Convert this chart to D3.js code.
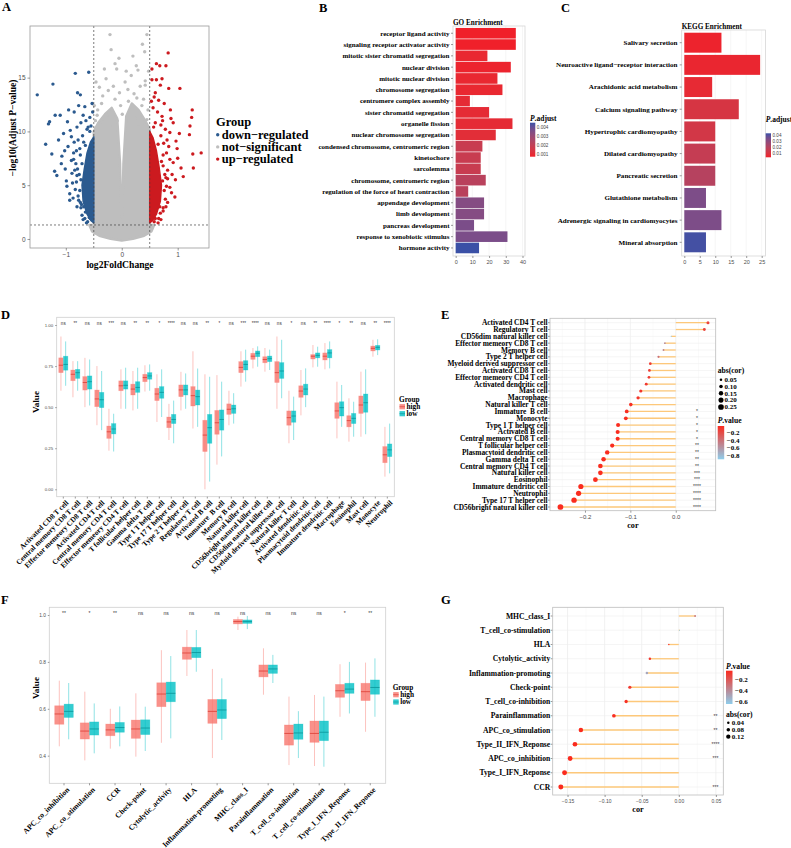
<!DOCTYPE html>
<html><head><meta charset="utf-8">
<script src="https://cdn.jsdelivr.net/npm/d3@7"></script>
<style>body{margin:0;background:#fff}</style>
</head><body>
<svg id="c" width="791" height="848"></svg>
<script>
// ================= DATA =================
// Panel A – volcano (log2FC, -log10 adj P)
const volcanoNsCore = [[-0.5,1.3],[-0.58,1.3],[-0.53,0.7],[-0.4,0.3],[-0.2,0.02],[0,-0.15],[0.2,0.02],[0.4,0.3],[0.53,0.7],[0.58,1.3],[0.5,1.3],[0.5,10.2],[0.42,11.0],[0.3,12.0],[0.18,12.6],[0.08,11.4],[0.03,7],[0.008,2.0],[-0.008,2.0],[-0.03,7],[-0.08,11.2],[-0.18,12.2],[-0.3,11.6],[-0.42,10.8],[-0.5,10.0]];
const volcanoDownCore = [[-0.5,1.5],[-0.5,9.5],[-0.56,9.0],[-0.62,8.0],[-0.67,6.5],[-0.71,5.0],[-0.69,3.5],[-0.62,2.3],[-0.55,1.7]];
const volcanoUpCore = [[0.5,1.5],[0.5,10.0],[0.56,9.4],[0.62,8.2],[0.67,6.6],[0.71,5.0],[0.69,3.5],[0.62,2.3],[0.55,1.7]];
const volcanoNs = [[-0.21,19.0],[0.45,19.0],[-0.19,17.6],[0.37,18.1],[0.41,17.4],[-0.12,16.3],[-0.09,15.8],[0.26,16.1],[0.29,15.7],[0.17,15.2],[-0.28,14.9],[-0.46,14.6],[-0.40,14.1],[0.42,14.7],[0.42,14.3],[-0.34,13.3],[-0.04,13.6],[0.11,13.9],[-0.12,13.0],[0.27,13.1],[0.36,12.4],[-0.43,12.0],[-0.26,11.5],[0.01,11.6],[0.18,12.0],[-0.08,11.0],[-0.49,12.4],[-0.47,11.0],[0.45,11.1],[0.39,13.0],[-0.21,10.4],[0.30,10.4],[-0.36,12.6],[0.22,13.5],[-0.15,14.2],[0.06,14.6],[0.33,14.2],[-0.24,13.8],[0.47,12.0],[-0.44,11.5],[0.12,12.8],[-0.02,12.4],[0.24,11.2],[-0.35,10.9],[0.40,10.8],[0.08,15.6],[-0.05,16.8],[0.20,17.0],[-0.31,15.8],[0.48,15.6]];
const volcanoDown = [[-1.51,13.4],[-1.23,14.4],[-0.83,15.4],[-0.59,15.5],[-0.79,13.6],[-0.74,13.4],[-0.77,12.4],[-0.95,12.0],[-1.10,11.5],[-1.29,10.9],[-1.31,10.7],[-1.19,11.5],[-1.36,8.8],[-1.25,7.9],[-1.08,7.0],[-1.16,5.9],[-0.93,3.6],[-0.99,5.4],[-0.85,11.8],[-0.69,11.5],[-0.57,11.3],[-1.04,9.8],[-0.92,10.1],[-0.80,10.4],[-1.13,9.2],[-0.96,8.6],[-0.86,8.0],[-1.01,6.5],[-0.89,6.1],[-0.98,4.9],[-0.83,4.6],[-0.74,3.4],[-0.65,2.5],[-0.61,1.6],[-1.07,7.7],[-0.55,10.5],[-0.62,10.2],[-0.70,9.6],[-0.78,9.2],[-0.85,9.0],[-0.90,7.3],[-0.82,7.0],[-0.79,6.5],[-0.88,5.2],[-0.93,4.2],[-0.80,3.0],[-0.71,2.2],[-0.58,2.0],[-1.20,6.3],[-0.97,10.9],[-0.66,12.3],[-0.53,12.6],[-1.02,8.2],[-0.87,3.8],[-0.81,5.3],[-0.84,6.4],[-0.75,8.4],[-0.68,9.0],[-0.78,4.0],[-0.72,3.2],[-0.90,9.5],[-0.64,11.0],[-0.56,1.9],[-0.63,1.5],[-0.74,7.8],[-0.76,6.0],[-0.75,4.5],[-0.73,2.9],[-0.66,1.9],[-0.60,10.4],[-0.52,11.8],[-0.73,10.8],[-0.81,8.2],[-0.86,7.4],[-0.77,3.6],[-0.69,1.8],[-0.80,5.9],[-0.71,7.0],[-0.65,8.7],[-0.57,10.0],[-0.73,5.5],[-0.68,3.0]];
const volcanoUp = [[0.83,17.3],[0.79,16.1],[0.62,16.3],[0.68,16.1],[1.04,14.0],[0.84,14.0],[0.72,14.9],[0.54,14.8],[1.26,12.0],[1.25,11.3],[1.22,10.5],[1.21,9.7],[1.42,8.0],[1.27,7.9],[1.28,6.6],[1.03,9.8],[0.99,8.4],[1.06,6.6],[0.86,9.9],[0.87,12.0],[0.92,7.1],[0.80,4.9],[0.89,4.3],[0.79,3.0],[0.69,2.4],[0.57,2.1],[0.96,5.5],[0.75,8.9],[0.66,12.9],[0.72,11.4],[0.80,8.0],[0.92,10.8],[0.60,13.6],[0.56,12.2],[0.64,11.8],[0.70,10.6],[0.78,10.2],[0.84,8.6],[0.90,6.0],[0.82,6.4],[0.86,4.8],[0.95,3.9],[0.82,3.4],[0.74,2.6],[0.60,1.9],[1.00,7.5],[0.97,9.1],[1.10,5.8],[0.69,14.3],[0.76,12.6],[0.54,15.8],[0.88,11.2],[0.79,5.7],[0.74,6.8],[0.58,1.6],[0.65,1.5],[0.74,7.8],[0.77,6.0],[0.76,4.5],[0.74,2.9],[0.66,1.9],[0.70,9.6],[0.60,10.8],[0.53,12.8],[0.73,11.0],[0.81,9.2],[0.86,7.4],[0.78,3.7],[0.70,1.8],[0.82,5.6],[0.58,13.2],[0.62,14.8],[0.71,7.2],[0.65,8.8],[0.57,10.4],[0.73,5.4],[0.68,3.0]];
const volcanoGroups = ["down−regulated","not−significant","up−regulated"];
const volcanoXTicks = [-1,0,1];
const volcanoYTicks = [0,5,10,15];

// Panel B – GO enrichment
const goTerms = ["receptor ligand activity","signaling receptor activator activity","mitotic sister chromatid segregation","nuclear division","mitotic nuclear division","chromosome segregation","centromere complex assembly","sister chromatid segregation","organelle fission","nuclear chromosome segregation","condensed chromosome, centromeric region","kinetochore","sarcolemma","chromosome, centromeric region","regulation of the force of heart contraction","appendage development","limb development","pancreas development","response to xenobiotic stimulus","hormone activity"];
const goCount = [36,36,19,33,25,28,8.5,20,34,24,16,15,15,18,7.5,17,17,11,31,14];
const goPadj = [0.0007,0.0007,0.0009,0.0008,0.0009,0.0009,0.001,0.001,0.001,0.0011,0.0018,0.0018,0.0018,0.0022,0.0022,0.0034,0.0034,0.0036,0.0036,0.0045];
const goXTicks = [0,10,20,30,40];
const goLegendTicks = [0.004,0.003,0.002,0.001];

// Panel C – KEGG enrichment
const keggTerms = ["Salivary secretion","Neuroactive ligand−receptor interaction","Arachidonic acid metabolism","Calcium signaling pathway","Hypertrophic cardiomyopathy","Dilated cardiomyopathy","Pancreatic secretion","Glutathione metabolism","Adrenergic signaling in cardiomyocytes","Mineral absorption"];
const keggCount = [12,24.5,9,17.6,10,10,10,7,12,7];
const keggPadj = [0.004,0.005,0.006,0.011,0.012,0.016,0.02,0.034,0.034,0.043];
const keggXTicks = [0,5,10,15,20,25];
const keggLegendTicks = [0.04,0.03,0.02,0.01];

// Panel D – immune cells boxplots  [lower whisker, q1, median, q3, upper whisker]
const dCells = ["Activated CD8 T cell","Central memory CD8 T cell","Effector memeory CD8 T cell","Activated CD4 T cell","Central memory CD4 T cell","Effector memeory CD4 T cell","T follicular helper cell","Gamma delta T cell","Type 1 T helper cell","Type 17 T helper cell","Type 2 T helper cell","Regulatory T cell","Activated B cell","Immature  B cell","Memory B cell","Natural killer cell","CD56bright natural killer cell","CD56dim natural killer cell","Myeloid derived suppressor cell","Natural killer T cell","Activated dendritic cell","Plasmacytoid dendritic cell","Immature dendritic cell","Macrophage","Eosinophil","Mast cell","Monocyte","Neutrophil"];
const dHigh = [[0.60,0.71,0.755,0.80,0.93],[0.56,0.661,0.70,0.726,0.78],[0.50,0.604,0.65,0.686,0.80],[0.39,0.503,0.55,0.604,0.75],[0.235,0.31,0.35,0.385,0.49],[0.49,0.60,0.63,0.66,0.73],[0.48,0.574,0.61,0.64,0.72],[0.595,0.655,0.68,0.70,0.755],[0.41,0.54,0.58,0.615,0.70],[0.30,0.375,0.41,0.44,0.52],[0.48,0.564,0.605,0.635,0.715],[0.37,0.507,0.57,0.625,0.84],[0.0,0.23,0.33,0.42,0.70],[0.15,0.335,0.405,0.48,0.695],[0.39,0.456,0.487,0.52,0.60],[0.625,0.71,0.742,0.777,0.84],[0.736,0.791,0.81,0.828,0.86],[0.716,0.77,0.79,0.807,0.86],[0.49,0.65,0.71,0.777,0.93],[0.28,0.39,0.436,0.477,0.60],[0.45,0.56,0.598,0.63,0.726],[0.742,0.793,0.81,0.82,0.878],[0.73,0.787,0.81,0.83,0.89],[0.31,0.432,0.477,0.527,0.655],[0.29,0.38,0.418,0.448,0.554],[0.32,0.462,0.513,0.568,0.716],[0.807,0.842,0.858,0.872,0.91],[0.077,0.162,0.21,0.26,0.38]];
const dLow = [[0.63,0.725,0.76,0.81,0.90],[0.60,0.675,0.71,0.73,0.78],[0.51,0.61,0.655,0.69,0.79],[0.36,0.497,0.545,0.59,0.72],[0.23,0.337,0.367,0.40,0.46],[0.49,0.61,0.633,0.66,0.74],[0.49,0.59,0.62,0.655,0.74],[0.60,0.67,0.69,0.71,0.76],[0.44,0.554,0.59,0.625,0.73],[0.28,0.40,0.425,0.456,0.54],[0.49,0.574,0.605,0.635,0.705],[0.38,0.513,0.564,0.604,0.735],[0.047,0.28,0.375,0.456,0.685],[0.20,0.36,0.425,0.483,0.655],[0.40,0.462,0.49,0.513,0.585],[0.655,0.726,0.76,0.783,0.85],[0.746,0.807,0.828,0.842,0.87],[0.726,0.777,0.795,0.811,0.85],[0.554,0.675,0.72,0.771,0.91],[0.30,0.408,0.446,0.477,0.564],[0.50,0.574,0.61,0.64,0.736],[0.746,0.80,0.815,0.83,0.868],[0.736,0.80,0.83,0.85,0.90],[0.38,0.446,0.497,0.533,0.635],[0.32,0.40,0.432,0.462,0.533],[0.335,0.469,0.527,0.58,0.73],[0.817,0.848,0.864,0.876,0.913],[0.097,0.199,0.24,0.276,0.40]];
const dSig = ["ns","**","ns","ns","***","ns","**","**","*","****","ns","ns","**","*","ns","***","****","ns","ns","*","ns","**","****","*","**","ns","**","****"];
const dYTicks = [0,0.25,0.5,0.75,1];
const groups = ["high","low"];

// Panel E – correlation lollipop (cells)
const eCells = ["Activated CD4 T cell","Regulatory T cell","CD56dim natural killer cell","Effector memeory CD8 T cell","Memory B cell","Type 2 T helper cell","Myeloid derived suppressor cell","Activated CD8 T cell","Effector memeory CD4 T cell","Activated dendritic cell","Mast cell","Macrophage","Natural killer T cell","Immature  B cell","Monocyte","Type 1 T helper cell","Activated B cell","Central memory CD8 T cell","T follicular helper cell","Plasmacytoid dendritic cell","Gamma delta T cell","Central memory CD4 T cell","Natural killer cell","Eosinophil","Immature dendritic cell","Neutrophil","Type 17 T helper cell","CD56bright natural killer cell"];
const eCor = [0.071,0.063,-0.010,-0.024,-0.027,-0.038,-0.056,-0.058,-0.059,-0.065,-0.077,-0.083,-0.099,-0.108,-0.110,-0.127,-0.128,-0.128,-0.140,-0.151,-0.159,-0.166,-0.166,-0.177,-0.209,-0.214,-0.224,-0.254];
const ePval = [-0.15,-0.15,-0.85,-0.55,-0.5,-0.4,-0.12,-0.12,-0.12,-0.1,-0.08,-0.08,-0.05,-0.04,-0.04,-0.03,-0.03,-0.03,-0.03,-0.03,-0.03,-0.03,-0.03,-0.03,-0.03,-0.03,-0.03,-0.03];
const eSig = ["","","","","","","","","","","","","","*","*","*","*","*","**","**","**","**","***","***","****","****","****","****"];
const eXTicks = [-0.2,-0.1,0.0];
const eSizeTicks = [0.05,0.10,0.15,0.20,0.25];
const ePvalTicks = [-0.2,-0.4,-0.6,-0.8];

// Panel F – immune function boxplots
const fCats = ["APC_co_inhibition","APC_co_stimulation","CCR","Check-point","Cytolytic_activity","HLA","Inflammation-promoting","MHC_class_I","Parainflammation","T_cell_co-inhibition","T_cell_co-stimulation","Type_I_IFN_Reponse","Type_II_IFN_Reponse"];
const fHigh = [[0.44,0.534,0.578,0.613,0.72],[0.38,0.471,0.505,0.54,0.673],[0.43,0.485,0.51,0.535,0.60],[0.396,0.474,0.514,0.552,0.666],[0.455,0.609,0.663,0.711,0.85],[0.74,0.811,0.838,0.863,0.936],[0.39,0.538,0.589,0.64,0.77],[0.936,0.962,0.972,0.981,0.993],[0.66,0.736,0.761,0.787,0.858],[0.36,0.445,0.495,0.531,0.652],[0.356,0.457,0.495,0.548,0.659],[0.566,0.649,0.677,0.704,0.79],[0.502,0.635,0.673,0.709,0.797]];
const fLow = [[0.47,0.563,0.589,0.62,0.71],[0.41,0.488,0.514,0.544,0.623],[0.44,0.50,0.52,0.542,0.61],[0.42,0.49,0.518,0.553,0.609],[0.474,0.63,0.666,0.714,0.825],[0.758,0.818,0.84,0.862,0.936],[0.467,0.558,0.595,0.64,0.73],[0.94,0.964,0.972,0.979,0.996],[0.71,0.751,0.77,0.787,0.83],[0.39,0.47,0.497,0.535,0.59],[0.353,0.464,0.50,0.548,0.652],[0.58,0.666,0.684,0.709,0.80],[0.566,0.662,0.691,0.723,0.815]];
const fSig = ["**","*","**","ns","ns","ns","ns","ns","ns","ns","ns","*","**"];
const fYTicks = [0.4,0.6,0.8,1.0];

// Panel G – correlation lollipop (functions)
const gCats = ["MHC_class_I","T_cell_co-stimulation","HLA","Cytolytic_activity","Inflammation-promoting","Check-point","T_cell_co-inhibition","Parainflammation","APC_co_stimulation","Type_II_IFN_Reponse","APC_co_inhibition","Type_I_IFN_Reponse","CCR"];
const gCor = [0.022,0.001,-0.0135,-0.039,-0.043,-0.066,-0.071,-0.0875,-0.132,-0.140,-0.1465,-0.154,-0.159];
const gPval = [-0.32,-0.62,-0.06,-0.08,-0.5,-0.08,-0.05,-0.04,-0.03,-0.03,-0.03,-0.03,-0.03];
const gSig = ["","","","","","","","**","**","****","***","","***"];
const gXTicks = [-0.15,-0.10,-0.05,0.00,0.05];
const gSizeTicks = [0.04,0.08,0.12];
const gPvalTicks = [-0.2,-0.4,-0.6];

// ================= DRAWING =================
const SERIF = "'Liberation Serif','Times New Roman',serif";
const SANS = "'Liberation Sans',Arial,sans-serif";
const svg = d3.select("#c");
svg.append("rect").attr("width",791).attr("height",848).attr("fill","#fff");
const defs = svg.append("defs");

function txt(g,x,y,s,o={}){
  const t=g.append("text").attr("x",x).attr("y",y).text(s)
    .attr("font-family",o.family||SERIF).attr("font-size",o.size||8)
    .attr("font-weight",o.weight||"bold").attr("fill",o.fill||"#000")
    .attr("text-anchor",o.anchor||"start").style("white-space","pre");
  if(o.baseline) t.attr("dominant-baseline",o.baseline);
  if(o.rotate!=null) t.attr("transform",`rotate(${o.rotate},${x},${y})`);
  if(o.style) t.attr("font-style",o.style);
  return t;
}
function styleAxis(sel,fs,col){
  sel.select(".domain").remove();
  sel.selectAll(".tick line").attr("stroke","#555").attr("stroke-width",0.6);
  sel.selectAll(".tick text").attr("font-family",SANS).attr("font-size",fs).attr("fill",col||"#4D4D4D");
}
function frame(g,x0,y0,x1,y1,col){
  g.append("rect").attr("x",x0).attr("y",y0).attr("width",x1-x0).attr("height",y1-y0)
   .attr("fill","none").attr("stroke",col||"#BDBDBD").attr("stroke-width",0.8);
}
// panel letters
[["A",2,11],["B",319,12],["C",561,12],["D",1,319],["E",441,319],["F",1,604],["G",441,604]]
  .forEach(([l,x,y])=>txt(svg,x,y,l,{size:12.5}));

// ---------- A ----------
(function(){
  const g=svg.append("g");
  const x=d3.scaleLinear().domain([-1.64,1.56]).range([30,209]);
  const y=d3.scaleLinear().domain([-0.84,19.8]).range([248,26]);
  const GREY="#BEBEBE", BLUE="#2B5A8F", RED="#CC1A1F";
  const line=d3.line().x(d=>x(d[0])).y(d=>y(d[1])).curve(d3.curveLinearClosed);
  g.append("path").attr("d",line(volcanoNsCore)).attr("fill",GREY).attr("stroke",GREY).attr("stroke-width",2.4).attr("stroke-linejoin","round");
  g.append("path").attr("d",line(volcanoDownCore)).attr("fill",BLUE).attr("stroke",BLUE).attr("stroke-width",1.5).attr("stroke-linejoin","round");
  g.append("path").attr("d",line(volcanoUpCore)).attr("fill",RED).attr("stroke",RED).attr("stroke-width",1.5).attr("stroke-linejoin","round");
  [[volcanoNs,GREY],[volcanoDown,BLUE],[volcanoUp,RED]].forEach(([arr,c])=>{
    g.selectAll(null).data(arr).enter().append("circle").attr("cx",d=>x(d[0])).attr("cy",d=>y(d[1])).attr("r",1.7).attr("fill",c);
  });
  [-0.5,0.5].forEach(v=>g.append("line").attr("x1",x(v)).attr("x2",x(v)).attr("y1",26).attr("y2",248).attr("stroke","#444").attr("stroke-width",0.7).attr("stroke-dasharray","2,2"));
  g.append("line").attr("x1",30).attr("x2",209).attr("y1",y(1.3)).attr("y2",y(1.3)).attr("stroke","#444").attr("stroke-width",0.7).attr("stroke-dasharray","2,2");
  frame(g,30,26,209,248,"#9A9A9A");
  const ax=g.append("g").attr("transform","translate(0,248)").call(d3.axisBottom(x).tickValues(volcanoXTicks).tickSize(2.5).tickPadding(2).tickFormat(d3.format("d")));
  styleAxis(ax,6.5);
  const ay=g.append("g").attr("transform","translate(30,0)").call(d3.axisLeft(y).tickValues(volcanoYTicks).tickSize(2.5).tickPadding(2));
  styleAxis(ay,6.5);
  txt(g,16,128,"−log10(Adjust P−value)",{size:9.6,anchor:"middle",rotate:-90});
  txt(g,120,268,"log2FoldChange",{size:9.6,anchor:"middle"});
  txt(g,216,126,"Group",{size:12.5});
  [BLUE,GREY,RED].forEach((c,i)=>{
    const cy=134.7+i*12.2;
    g.append("circle").attr("cx",217.7).attr("cy",cy).attr("r",1.7).attr("fill",c);
    txt(g,221.7,cy+4,volcanoGroups[i],{size:12.5});
  });
})();

// colour scales for enrichment
function padjScale(dom){ return d3.scaleLinear().domain(dom).range(["#F0202A","#3A50A6"]).interpolate(d3.interpolateLab); }
function vColorbar(id,x,y0,y1,w,scale,top,bottom){
  const gr=defs.append("linearGradient").attr("id",id).attr("x1",0).attr("x2",0).attr("y1",0).attr("y2",1);
  for(let i=0;i<=10;i++){ gr.append("stop").attr("offset",i/10).attr("stop-color",scale(top+(bottom-top)*i/10)); }
  svg.append("rect").attr("x",x).attr("y",y0).attr("width",w).attr("height",y1-y0).attr("fill",`url(#${id})`);
}
function italicTitle(x,y,rest,size){
  const t=txt(svg,x,y,"",{size:size});
  t.append("tspan").attr("font-style","italic").text("P");
  t.append("tspan").text(rest);
}

// ---------- B ----------
(function(){
  const g=svg.append("g");
  const x=d3.scaleLinear().domain([-1.6,41.5]).range([453,525]);
  const y=d3.scaleBand().domain(goTerms).range([27.6,253.6]).paddingInner(0.06).paddingOuter(0.03);
  const col=padjScale([0.0007,0.0045]);
  goXTicks.forEach(v=>g.append("line").attr("x1",x(v)).attr("x2",x(v)).attr("y1",26).attr("y2",256).attr("stroke","#F0F0F0").attr("stroke-width",0.6));
  g.selectAll(null).data(goTerms).enter().append("rect")
    .attr("x",x(0)).attr("y",d=>y(d)).attr("height",y.bandwidth())
    .attr("width",(d,i)=>x(goCount[i])-x(0)).attr("fill",(d,i)=>col(goPadj[i]));
  frame(g,453,26,525,256,"#D6D6D6");
  const ax=g.append("g").attr("transform","translate(0,256)").call(d3.axisBottom(x).tickValues(goXTicks).tickSize(2).tickPadding(2));
  styleAxis(ax,5.5);
  goTerms.forEach(t=>{
    const cy=y(t)+y.bandwidth()/2;
    g.append("line").attr("x1",451).attr("x2",453).attr("y1",cy).attr("y2",cy).attr("stroke","#555").attr("stroke-width",0.6);
    txt(g,449.5,cy+2.4,t,{size:7,anchor:"end"});
  });
  txt(g,453,24.5,"GO Enrichment",{size:7.2});
  italicTitle(530,120.5,".adjust",7.5);
  const ly=d3.scaleLinear().domain([0.0045,0.0007]).range([122.7,156.7]);
  vColorbar("gB",530,122.7,156.7,5.3,col,0.0045,0.0007);
  goLegendTicks.forEach(v=>txt(g,536.8,ly(v)+1.6,d3.format(".3f")(v),{size:4.6,family:SANS,weight:"normal",fill:"#444"}));
})();

// ---------- C ----------
(function(){
  const g=svg.append("g");
  const x=d3.scaleLinear().domain([-0.84,26.2]).range([681.7,765.4]);
  const y=d3.scaleBand().domain(keggTerms).range([31.6,253.4]).paddingInner(0.1).paddingOuter(0.05);
  const col=padjScale([0.0032,0.044]);
  keggXTicks.forEach(v=>g.append("line").attr("x1",x(v)).attr("x2",x(v)).attr("y1",30).attr("y2",256).attr("stroke","#F0F0F0").attr("stroke-width",0.6));
  g.selectAll(null).data(keggTerms).enter().append("rect")
    .attr("x",x(0)).attr("y",d=>y(d)).attr("height",y.bandwidth())
    .attr("width",(d,i)=>x(keggCount[i])-x(0)).attr("fill",(d,i)=>col(keggPadj[i]));
  frame(g,681.7,30,765.4,256,"#D6D6D6");
  const ax=g.append("g").attr("transform","translate(0,256)").call(d3.axisBottom(x).tickValues(keggXTicks).tickSize(2).tickPadding(2));
  styleAxis(ax,5.5);
  keggTerms.forEach(t=>{
    const cy=y(t)+y.bandwidth()/2;
    g.append("line").attr("x1",679.7).attr("x2",681.7).attr("y1",cy).attr("y2",cy).attr("stroke","#555").attr("stroke-width",0.6);
    txt(g,677.5,cy+2.4,t,{size:7.1,anchor:"end"});
  });
  txt(g,681.7,28.5,"KEGG Enrichment",{size:7.2});
  italicTitle(765.7,121.5,".adjust",7.5);
  const ly=d3.scaleLinear().domain([0.044,0.0032]).range([133.3,157.3]);
  vColorbar("gC",765.7,133.3,157.3,5.3,col,0.044,0.0032);
  keggLegendTicks.forEach(v=>txt(g,772.5,ly(v)+1.6,d3.format(".2f")(v),{size:4.6,family:SANS,weight:"normal",fill:"#444"}));
})();

// ---------- box plot helper ----------
const HIGH="#F8766D", LOW="#00BFC4", HIGH_MED="#E0463D", LOW_MED="#0E9A9E";
function drawBoxes(g,cats,data,xs,ys,off,w,col,medCol){
  cats.forEach((c,i)=>{
    const [lo,q1,md,q3,hi]=data[i];
    const cx=xs(c)+xs.bandwidth()/2+off;
    g.append("line").attr("x1",cx).attr("x2",cx).attr("y1",ys(hi)).attr("y2",ys(lo)).attr("stroke",col).attr("stroke-opacity",0.55).attr("stroke-width",0.8);
    g.append("rect").attr("x",cx-w/2).attr("y",ys(q3)).attr("width",w).attr("height",ys(q1)-ys(q3))
      .attr("fill",col).attr("fill-opacity",0.8).attr("stroke",col).attr("stroke-opacity",0.35).attr("stroke-width",0.7);
    g.append("line").attr("x1",cx-w/2).attr("x2",cx+w/2).attr("y1",ys(md)).attr("y2",ys(md)).attr("stroke",medCol).attr("stroke-width",0.9);
  });
}
function groupLegend(g,x,yTitle,yItems,size){
  txt(g,x,yTitle,"Group",{size:size});
  [HIGH,LOW].forEach((c,i)=>{
    const cy=yItems[i];
    g.append("rect").attr("x",x+0.5).attr("y",cy-2.6).attr("width",5.5).attr("height",5.2).attr("fill",c).attr("fill-opacity",0.8);
    g.append("line").attr("x1",x+0.5).attr("x2",x+6).attr("y1",cy).attr("y2",cy).attr("stroke",i?LOW_MED:HIGH_MED).attr("stroke-width",0.7);
    txt(g,x+7.5,cy+2.4,groups[i],{size:size});
  });
}

// ---------- D ----------
(function(){
  const g=svg.append("g");
  const x=d3.scaleBand().domain(dCells).range([57.3,393.3]);
  const y=d3.scaleLinear().domain([0,1]).range([489.3,325]);
  drawBoxes(g,dCells,dHigh,x,y,-2.35,4.4,HIGH,HIGH_MED);
  drawBoxes(g,dCells,dLow,x,y,2.35,4.4,LOW,LOW_MED);
  frame(g,56.7,317.3,394.3,496.7,"#CFCFCF");
  const ay=g.append("g").attr("transform","translate(56.7,0)").call(d3.axisLeft(y).tickValues(dYTicks).tickSize(1.5).tickPadding(2).tickFormat(d3.format(".2f")));
  styleAxis(ay,4.4);
  dCells.forEach((c,i)=>{
    const cx=x(c)+x.bandwidth()/2;
    g.append("line").attr("x1",cx).attr("x2",cx).attr("y1",496.7).attr("y2",498.5).attr("stroke","#555").attr("stroke-width",0.6);
    txt(g,cx,324.8,dSig[i],{size:4.6,family:SANS,weight:"normal",fill:"#333",anchor:"middle"});
    const t=txt(g,0,0,c,{size:7.4,anchor:"end"});
    t.attr("x",null).attr("y",null).attr("dy","0.72em").attr("transform",`translate(${cx+1.8},${499.5}) rotate(-45)`);
  });
  txt(g,39,402,"Value",{size:9.2,anchor:"middle",rotate:-90});
  groupLegend(g,399,401.5,[406.7,413.7],7.3);
})();

// ---------- F ----------
(function(){
  const g=svg.append("g");
  const x=d3.scaleBand().domain(fCats).range([51.24,383.0]);
  const y=d3.scaleLinear().domain([0.4,1.0]).range([755.7,615]);
  drawBoxes(g,fCats,fHigh,x,y,-4.7,9.2,HIGH,HIGH_MED);
  drawBoxes(g,fCats,fLow,x,y,4.7,9.2,LOW,LOW_MED);
  frame(g,49.3,607.3,385.7,783.3,"#CFCFCF");
  const ay=g.append("g").attr("transform","translate(49.3,0)").call(d3.axisLeft(y).tickValues(fYTicks).tickSize(1.5).tickPadding(2).tickFormat(d3.format(".1f")));
  styleAxis(ay,4.8);
  fCats.forEach((c,i)=>{
    const cx=x(c)+x.bandwidth()/2;
    g.append("line").attr("x1",cx).attr("x2",cx).attr("y1",783.3).attr("y2",785.3).attr("stroke","#555").attr("stroke-width",0.6);
    txt(g,cx,614.5,fSig[i],{size:5,family:SANS,weight:"normal",fill:"#333",anchor:"middle"});
    const t=txt(g,0,0,c,{size:7.6,anchor:"end"});
    t.attr("x",null).attr("y",null).attr("dy","0.72em").attr("transform",`translate(${cx+2},${786.5}) rotate(-45)`);
  });
  txt(g,39,688,"Value",{size:9.2,anchor:"middle",rotate:-90});
  groupLegend(g,392.7,689.5,[694.7,702],7.3);
})();

// ---------- lollipop helper ----------
function pvalScale(dom){ return d3.scaleLinear().domain(dom).range(["#8ECDEB","#FA2B1E"]); }
function lollipop(cfg){
  const g=svg.append("g");
  const x=d3.scaleLinear().domain(cfg.xd).range([cfg.x0,cfg.x1]);
  const y=d3.scalePoint().domain(cfg.cats).range(cfg.yr);
  const col=pvalScale(cfg.pd);
  const r=d3.scaleSqrt().domain([0,cfg.rmax]).range([0,cfg.rpx]);
  const minor=[];
  for(let i=0;i<cfg.ticks.length-1;i++) minor.push((cfg.ticks[i]+cfg.ticks[i+1])/2);
  minor.push(cfg.ticks[0]-(cfg.ticks[1]-cfg.ticks[0])/2, cfg.ticks[cfg.ticks.length-1]+(cfg.ticks[1]-cfg.ticks[0])/2);
  minor.filter(v=>x(v)>cfg.x0&&x(v)<cfg.x1).forEach(v=>g.append("line").attr("x1",x(v)).attr("x2",x(v)).attr("y1",cfg.y0).attr("y2",cfg.y1).attr("stroke","#F5F5F5").attr("stroke-width",0.5));
  cfg.ticks.forEach(v=>g.append("line").attr("x1",x(v)).attr("x2",x(v)).attr("y1",cfg.y0).attr("y2",cfg.y1).attr("stroke","#EBEBEB").attr("stroke-width",0.7));
  cfg.cats.forEach(c=>g.append("line").attr("x1",cfg.x0).attr("x2",cfg.x1).attr("y1",y(c)).attr("y2",y(c)).attr("stroke","#EFEFEF").attr("stroke-width",0.6));
  cfg.cats.forEach((c,i)=>{
    g.append("line").attr("x1",x(0)).attr("x2",x(cfg.cor[i])).attr("y1",y(c)).attr("y2",y(c)).attr("stroke","#FDC87A").attr("stroke-width",1.3);
  });
  cfg.cats.forEach((c,i)=>{
    g.append("circle").attr("cx",x(cfg.cor[i])).attr("cy",y(c)).attr("r",Math.max(0.5,r(Math.abs(cfg.cor[i])))).attr("fill",col(cfg.pval[i]));
    if(cfg.sig[i]) txt(g,cfg.sigX,y(c)+1.8,cfg.sig[i],{size:5,family:SANS,weight:"normal",fill:"#333",anchor:"middle"});
    g.append("line").attr("x1",cfg.x0-2).attr("x2",cfg.x0).attr("y1",y(c)).attr("y2",y(c)).attr("stroke","#555").attr("stroke-width",0.6);
    txt(g,cfg.x0-2.5,y(c)+2.5,c,{size:cfg.lfs,anchor:"end"});
  });
  frame(g,cfg.x0,cfg.y0,cfg.x1,cfg.y1,"#BDBDBD");
  const ax=g.append("g").attr("transform",`translate(0,${cfg.y1})`).call(d3.axisBottom(x).tickValues(cfg.ticks).tickSize(2).tickPadding(2).tickFormat(d3.format(cfg.fmt)));
  styleAxis(ax,cfg.tfs);
  txt(g,(cfg.x0+cfg.x1)/2,cfg.corY,"cor",{size:8.2,anchor:"middle"});
  const L=cfg.leg;
  txt(g,L.sizeX,L.sizeTitleY,"abs(cor)",{size:7.6});
  L.sizeTicks.forEach((v,i)=>{
    g.append("circle").attr("cx",L.dotX).attr("cy",L.sizeYs[i]).attr("r",r(v)).attr("fill","#000");
    txt(g,L.labX,L.sizeYs[i]+2.2,d3.format(".2f")(v),{size:7});
  });
  italicTitle(L.pX,L.pTitleY,".value",7.6);
  vColorbar(cfg.id,L.pX,L.barY0,L.barY1,6.5,col,cfg.pd[1],cfg.pd[0]);
  const ly=d3.scaleLinear().domain([cfg.pd[1],cfg.pd[0]]).range([L.barY0,L.barY1]);
  L.pTicks.forEach(v=>txt(g,L.pLabX,ly(v)+2.3,d3.format(".1f")(v),{size:7}));
}

// ---------- E ----------
lollipop({id:"gE",cats:eCells,cor:eCor,pval:ePval,sig:eSig,xd:[-0.277,0.088],x0:550,x1:715.7,y0:318.3,y1:510.7,
  yr:[322.7,507],pd:[-0.89,-0.026],rmax:0.26,rpx:2.9,ticks:eXTicks,fmt:".1f",tfs:6,corY:528,sigX:697,lfs:7.4,
  leg:{sizeX:717.7,sizeTitleY:373.3,sizeTicks:eSizeTicks,sizeYs:[379.7,386.5,393.3,400.1,407],dotX:721,labX:724.5,
    pX:717.7,pTitleY:423,barY0:426,barY1:459.3,pLabX:726.7,pTicks:ePvalTicks}});

// ---------- G ----------
lollipop({id:"gG",cats:gCats,cor:gCor,pval:gPval,sig:gSig,xd:[-0.170,0.060],x0:552.7,x1:723.3,y0:607.3,y1:795,
  yr:[616,787],pd:[-0.642,-0.029],rmax:0.16,rpx:2.5,ticks:gXTicks,fmt:".2f",tfs:5,corY:812,sigX:715.5,lfs:7.6,
  leg:{sizeX:726,sizeTitleY:717,sizeTicks:gSizeTicks,sizeYs:[722.7,729.7,736.7],dotX:728.3,labX:731.7,
    pX:726,pTitleY:668.5,barY0:670.7,barY1:704,pLabX:735,pTicks:gPvalTicks}});
</script></body></html>
